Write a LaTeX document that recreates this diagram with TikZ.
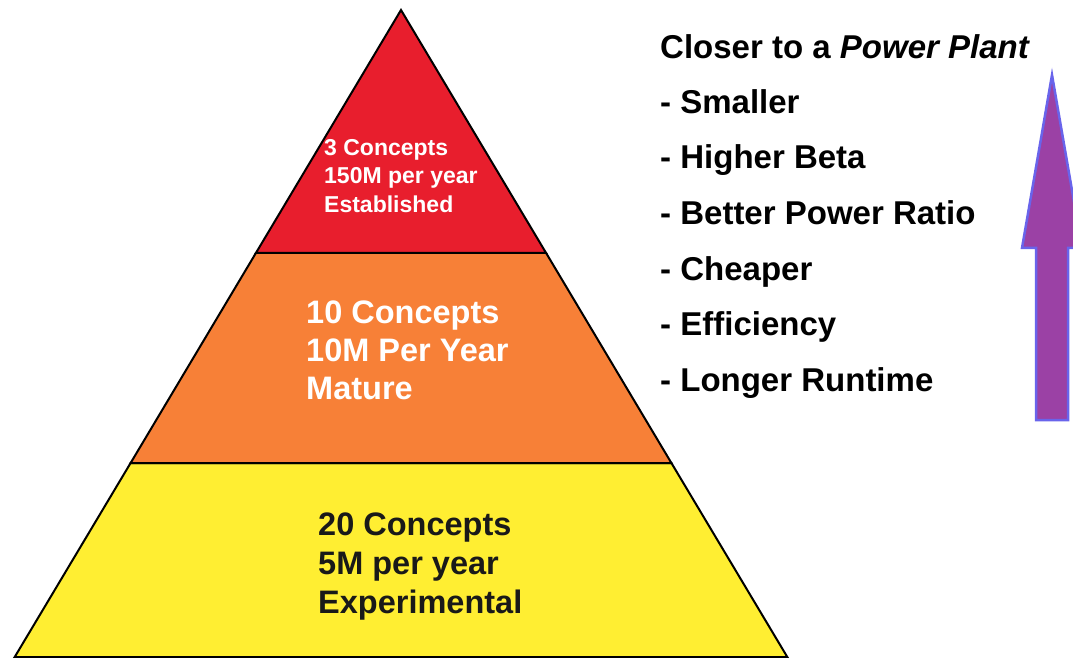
\documentclass[tikz,border=0pt]{standalone}
\usepackage{fontspec}
\setmainfont{Liberation Sans}
\usepackage{tikz}

\definecolor{tierred}{RGB}{232,30,45}
\definecolor{tierorange}{RGB}{247,128,55}
\definecolor{tieryellow}{RGB}{255,238,50}
\definecolor{arrowfill}{RGB}{155,65,165}
\definecolor{arrowedge}{RGB}{105,100,235}

\begin{document}
\begin{tikzpicture}[
        x=1pt, y=1pt,
        tier/.style={draw=black,line width=2pt,line join=miter},
        tiertext/.style={anchor=north west,inner sep=0pt,align=left,font=\bfseries},
        listtext/.style={anchor=base west,inner sep=0pt,font=\bfseries\fontsize{33}{38}\selectfont}
    ]
        \useasboundingbox (0,0) rectangle (1073,657);

        % pyramid corners (y counted up from the bottom edge)
        \coordinate (apex) at (401,647);
        \coordinate (rl) at (255.9,404);
        \coordinate (rr) at (546.1,404);
        \coordinate (ol) at (130.6,194);
        \coordinate (or) at (671.4,194);
        \coordinate (bl) at (14.7,0);
        \coordinate (br) at (787.3,0);

        \filldraw[tier,fill=tieryellow] (ol)--(or)--(br)--(bl)--cycle;
        \filldraw[tier,fill=tierorange] (rl)--(rr)--(or)--(ol)--cycle;
        \filldraw[tier,fill=tierred] (apex)--(rr)--(rl)--cycle;

        \node[tiertext,text=white,font=\bfseries\fontsize{23}{28.5}\selectfont]
            (top) at (324,518) {3 Concepts\\150M per year\\Established};
        \node[tiertext,text=white,font=\bfseries\fontsize{32.5}{38}\selectfont]
            (mid) at (306,356) {10 Concepts\\10M Per Year\\Mature};
        \node[tiertext,text=black!90,font=\bfseries\fontsize{32.5}{39}\selectfont]
            (base) at (318,144) {20 Concepts\\5M per year\\Experimental};

        % list of trends on the right
        \node[listtext] (title) at (660,598) {Closer to a \textit{Power Plant}};
        \foreach \txt [count=\i] in {Smaller,Higher Beta,Better Power Ratio,
                Cheaper,Efficiency,Longer Runtime}
            \node[listtext] (item\i) at (660,{543.6-55.6*(\i-1)}) {- \txt};

        % big upward arrow
        \filldraw[fill=arrowfill,draw=arrowedge,line width=2.5pt,line join=miter]
            (1036,237) -- (1036,409) -- (1022,409) -- (1052,582)
            -- (1082,409) -- (1068,409) -- (1068,237) -- cycle;
    \end{tikzpicture}
\end{document}
